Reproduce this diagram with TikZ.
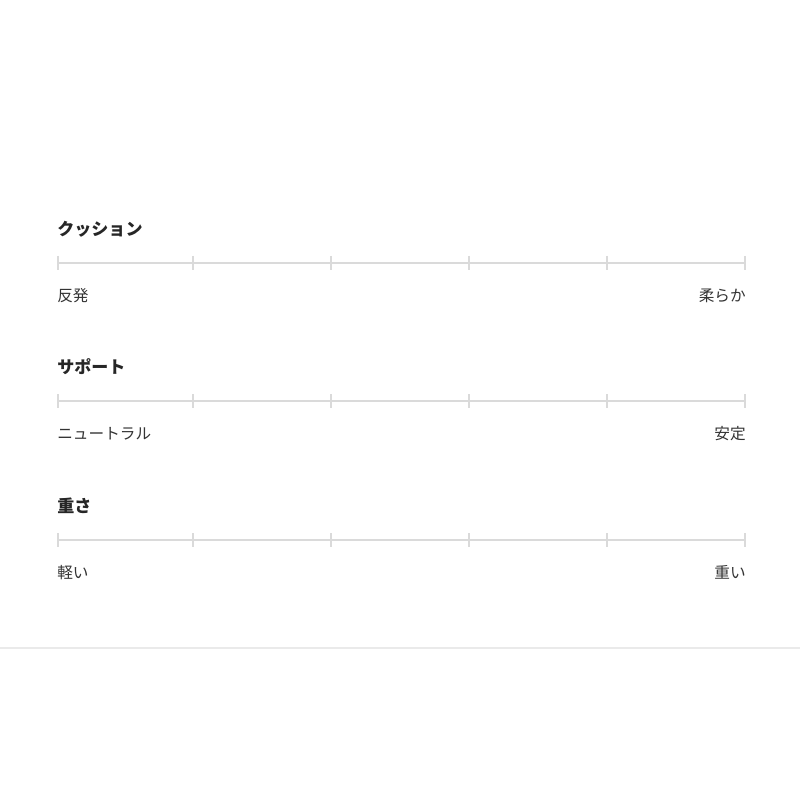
\documentclass[tikz,border=0pt]{standalone}
\usepackage{fontspec}
\newfontfamily\jpfont{Noto Sans CJK JP}
\definecolor{scalegray}{HTML}{DADADA}
\definecolor{rulegray}{HTML}{EAEAEA}

\begin{document}
\begin{tikzpicture}[x=0.02cm,y=-0.02cm,
    scaleline/.style={scalegray,line width=1.2pt},
    scaletick/.style={scalegray,line width=0.9pt},
    scaletitle/.style={font=\jpfont\bfseries\fontsize{9.7}{11}\selectfont,text=black!85,inner sep=0pt},
    scalelabel/.style={font=\jpfont\fontsize{8.9}{10}\selectfont,text=black!80,inner sep=0pt}]
          \useasboundingbox (0,0) rectangle (800,800);
          \draw[rulegray,line width=0.6pt] (0,648)--(800,648);
          \foreach \y/\t/\l/\r/\n in {263/クッション/反発/柔らか/cushion,
              401/サポート/ニュートラル/安定/support,
              540/重さ/軽い/重い/weight}{
            \coordinate (\n-start) at (58,\y);
            \coordinate (\n-end) at (745,\y);
            \draw[scaleline] (\n-start)--(\n-end);
            \foreach \x in {58,193,331,469,607,745}
              \draw[scaletick] (\x,\y-7)--(\x,\y+7);
            \node[scaletitle,anchor=base west] (\n-title) at (57,\y-27.5) {\t};
            \node[scalelabel,anchor=base west] (\n-left) at (57,\y+38) {\l};
            \node[scalelabel,anchor=base east] (\n-right) at (746,\y+38) {\r};
          }
        \end{tikzpicture}
\end{document}
